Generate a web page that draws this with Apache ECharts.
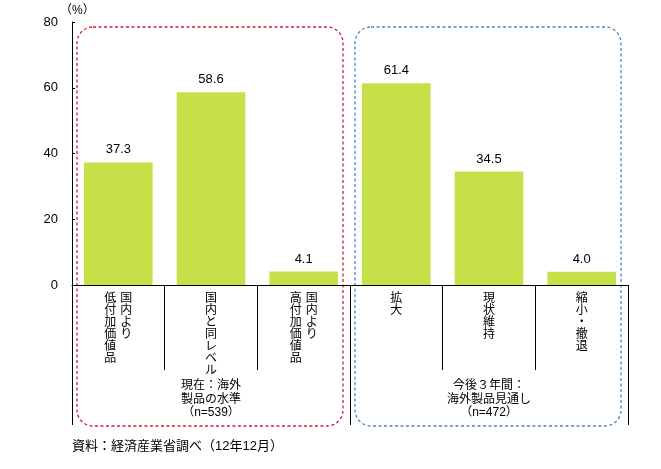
<!DOCTYPE html>
<html><head><meta charset="utf-8">
<script src="https://cdn.jsdelivr.net/npm/echarts@6/dist/echarts.min.js"></script>
<style>html,body{margin:0;padding:0;background:#fff}#c{width:661px;height:469px}</style>
</head><body><div id="c"></div>
<script>
// categories: each entry lists vertical text columns, right column first
var categoryColumns = [
  ['国内より', '低付加価値品'],
  ['国内と同レベル'],
  ['国内より', '高付加価値品'],
  ['拡大'],
  ['現状維持'],
  ['縮小・撤退']
];
var values = [37.3, 58.6, 4.1, 61.4, 34.5, 4.0];
var groupLabels = ['現在：海外\n製品の水準\n（n=539）', '今後３年間：\n海外製品見通し\n（n=472）'];
var yTicks = [0, 20, 40, 60, 80];
var unitLabel = '（%）';
var sourceNote = '資料：経済産業省調べ（12年12月）';

var FONT = '"Liberation Sans", "Noto Sans CJK JP", sans-serif';
var catNames = categoryColumns.map(function (c) { return c.join(''); });

function verticalLabel(idx) {
  var cols = categoryColumns[idx].slice().reverse(); // left to right
  var n = Math.max.apply(null, cols.map(function (c) { return c.length; }));
  var lines = [];
  for (var i = 0; i < n; i++) {
    var s = '';
    cols.forEach(function (c) {
      var ch = c.charAt(i) || ' ';
      s += '{a|' + ch + '}';
    });
    lines.push(s);
  }
  return lines.join('\n');
}

var chart = echarts.init(document.getElementById('c'));
var option = {
  animation: false,
  textStyle: { fontFamily: FONT },
  grid: { left: 72, right: 33, top: 22, bottom: 184 },
  xAxis: [{
    type: 'category',
    data: catNames,
    axisLine: { lineStyle: { color: '#000', width: 1 } },
    axisTick: { show: true, length: 85, lineStyle: { color: '#000' } },
    axisLabel: {
      margin: 8,
      interval: 0,
      formatter: function (v, i) { return verticalLabel(i); },
      rich: { a: { width: 16, align: 'center', fontSize: 12, lineHeight: 12, color: '#000', fontFamily: FONT } }
    }
  }, {
    type: 'category',
    position: 'bottom',
    data: groupLabels,
    axisLine: { show: false },
    axisTick: { show: true, length: 140, lineStyle: { color: '#000' } },
    axisLabel: { margin: 94, interval: 0, fontSize: 12, lineHeight: 13.5, color: '#000', fontFamily: FONT }
  }],
  yAxis: {
    type: 'value', min: 0, max: 80, interval: 20,
    axisLine: { show: true, lineStyle: { color: '#000' } },
    axisTick: { show: true, inside: true, length: 3, lineStyle: { color: '#000' } },
    splitLine: { show: false },
    axisLabel: {
      color: '#000', fontSize: 13, margin: 14, fontFamily: FONT,
      formatter: function (v) { return yTicks.indexOf(v) >= 0 ? String(v) : ''; }
    }
  },
  series: [{
    type: 'bar',
    data: values,
    barWidth: '74%',
    itemStyle: { color: '#c5e147' },
    label: { show: true, position: 'top', color: '#000', fontSize: 13, distance: 6, fontFamily: FONT,
      formatter: function (p) { return p.value.toFixed(1); } }
  }]
};
chart.setOption(option);

function px(cat, val) { return chart.convertToPixel({ xAxisIndex: 0, yAxisIndex: 0 }, [cat, val]); }
var step = px(1, 0)[0] - px(0, 0)[0];
var leftEdge = px(0, 0)[0] - step / 2;
var topY = px(0, 80)[1];
var baseY = px(0, 0)[1];
function box(startCat, color) {
  var x0 = leftEdge + startCat * step + 5;
  var x1 = leftEdge + (startCat + 3) * step - 7;
  return {
    type: 'rect',
    shape: { x: x0, y: topY + 5, width: x1 - x0, height: baseY + 141 - (topY + 5), r: 16 },
    style: { fill: 'none', stroke: color, lineWidth: 1.3, lineDash: [3, 2.5] },
    z: 0
  };
}
chart.setOption({
  graphic: [
    box(0, '#d2202a'),
    box(3, '#4a86c5'),
    { type: 'text', left: 60, top: 5, style: { text: unitLabel, fill: '#000', font: '12px ' + FONT } },
    { type: 'text', left: 72, top: 440, style: { text: sourceNote, fill: '#000', font: '13px ' + FONT } }
  ]
});
</script>
</body></html>
